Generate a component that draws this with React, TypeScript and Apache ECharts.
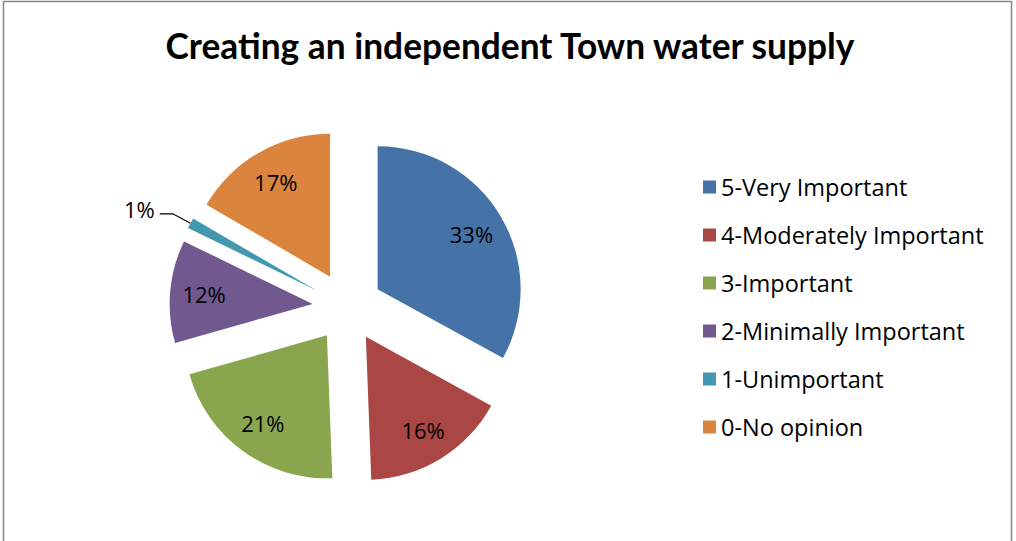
import React, { useEffect, useRef } from "react";
import * as echarts from "echarts";

const categories = [
  "5-Very Important",
  "4-Moderately Important",
  "3-Important",
  "2-Minimally Important",
  "1-Unimportant",
  "0-No opinion",
];
// shares (%); labels show them rounded
const values = [33.0, 16.4, 21.2, 11.6, 1.2, 16.6];
const colors = ["#4572A7", "#AA4643", "#89A54E", "#71588F", "#4198AF", "#DB843D"];
const titleText = "Creating an independent Town water supply";

const TITLE_FONT = "Lato, sans-serif";
const FONT = "'Open Sans', Lato, sans-serif";
const CENTER = [347.5, 307];
const RADIUS = 143;
const OFFSET = 35;

const pct = (p: any) => Math.round(p.percent) + "%";

export default function App() {
  const ref = useRef<HTMLDivElement>(null);
  useEffect(() => {
    if (!ref.current) return;
    const chart = echarts.init(ref.current, undefined, { renderer: "svg" });
    const mainData = categories.map((name, i) => ({
      name,
      value: values[i],
      selected: true,
      itemStyle: { color: colors[i] },
      label:
        i === 4
          ? {
              show: true,
              position: "outside",
              formatter: (p: any) => pct(p) + "\n{s| }",
              rich: { s: { fontSize: 2, lineHeight: 10 } },
            }
          : { show: false },
      labelLine: i === 4 ? { show: true } : { show: false },
    }));
    const labelData = categories.map((name, i) => ({
      name,
      value: values[i],
      selected: true,
      itemStyle: { color: "rgba(0,0,0,0)" },
      label: { show: i !== 4 },
    }));
    chart.setOption({
      animation: false,
      backgroundColor: "#fff",
      title: {
        text: titleText,
        left: 505,
        textAlign: "center",
        top: 23,
        textStyle: { fontFamily: TITLE_FONT, fontWeight: "bold", fontSize: 35.3, color: "#000" },
      },
      legend: {
        orient: "vertical",
        left: 703,
        top: 175,
        padding: 0,
        icon: "rect",
        itemWidth: 13,
        itemHeight: 13,
        itemGap: 24,
        data: categories,
        selectedMode: false,
        textStyle: { fontFamily: FONT, fontSize: 23.5, color: "#000", lineHeight: 21 },
      },
      graphic: [
        {
          type: "rect",
          shape: { x: 3.5, y: 1.5, width: 1008, height: 560 },
          style: { fill: "none", stroke: "#888", lineWidth: 1.5 },
          silent: true,
        },
      ],
      series: [
        {
          type: "pie",
          center: CENTER,
          radius: [0, RADIUS],
          startAngle: 90,
          clockwise: true,
          selectedMode: "multiple",
          selectedOffset: OFFSET,
          avoidLabelOverlap: false,
          emphasis: { disabled: true },
          label: { fontFamily: FONT, fontSize: 22, color: "#000", lineHeight: 24 },
          labelLine: { length: 20, length2: 13, lineStyle: { color: "#000", width: 1.2 } },
          data: mainData,
        },
        {
          type: "pie",
          center: CENTER,
          radius: [69, RADIUS],
          startAngle: 90,
          clockwise: true,
          selectedMode: "multiple",
          selectedOffset: OFFSET,
          silent: true,
          emphasis: { disabled: true },
          label: { position: "inside", formatter: pct, fontFamily: FONT, fontSize: 22, color: "#000" },
          labelLine: { show: false },
          data: labelData,
        },
      ],
    });
    return () => chart.dispose();
  }, []);
  return (
    <div
      ref={ref}
      style={{ position: "absolute", left: 0, top: 0, width: 1016, height: 541 }}
    />
  );
}
